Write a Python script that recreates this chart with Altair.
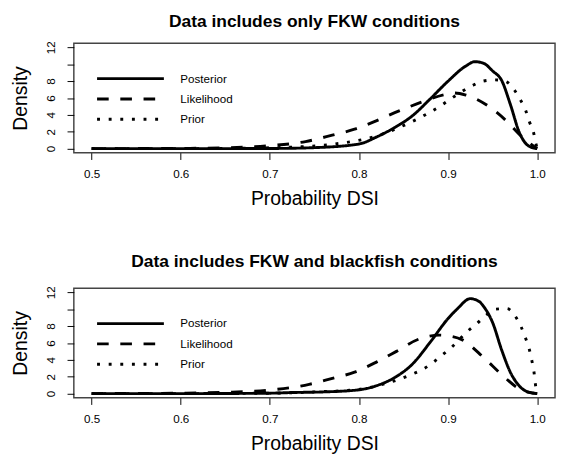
import altair as alt
import pandas as pd

SERIES = ["Posterior", "Likelihood", "Prior"]
X_TICKS = [0.5, 0.6, 0.7, 0.8, 0.9, 1.0]
Y_TICKS = [0, 2, 4, 6, 8, 10, 12]
Y_HIDDEN_LABEL = 10  # R drops this label because it would overlap its neighbours
TITLES = ["Data includes only FKW conditions", "Data includes FKW and blackfish conditions"]

# ---- Panel 1: Data includes only FKW conditions ----
top_post_x = [0.50, 0.60, 0.70, 0.75, 0.80, 0.82, 0.84, 0.86, 0.88, 0.90, 0.92, 0.93, 0.94, 0.95, 0.96, 0.97, 0.98, 0.99, 1.0]
top_post_y = [0.0, 0.0, 0.02, 0.12, 0.55, 1.4, 2.5, 3.9, 5.9, 8.0, 9.8, 10.3, 10.1, 9.2, 8.1, 5.2, 1.9, 0.35, 0.0]
top_lik_x = [0.50, 0.60, 0.65, 0.70, 0.74, 0.77, 0.795, 0.82, 0.845, 0.87, 0.896, 0.907, 0.92, 0.945, 0.965, 0.983, 1.0]
top_lik_y = [0.0, 0.03, 0.1, 0.35, 0.84, 1.6, 2.3, 3.33, 4.47, 5.5, 6.4, 6.6, 6.35, 5.05, 3.33, 1.4, 0.0]
top_pri_x = [0.50, 0.60, 0.70, 0.752, 0.78, 0.81, 0.833, 0.858, 0.869, 0.881, 0.892, 0.903, 0.926, 0.939, 0.952, 0.964, 0.974, 0.981, 0.987, 0.991, 0.996, 0.9986, 1.0]
top_pri_y = [0.0, 0.0, 0.1, 0.34, 0.65, 1.22, 1.99, 3.13, 3.7, 4.4, 5.1, 5.9, 7.4, 8.0, 8.15, 8.0, 7.0, 5.8, 4.55, 3.25, 1.87, 0.57, 0.0]

# ---- Panel 2: Data includes FKW and blackfish conditions ----
bot_post_x = [0.50, 0.60, 0.70, 0.726, 0.76, 0.80, 0.82, 0.84, 0.86, 0.88, 0.90, 0.91, 0.925, 0.935, 0.94, 0.95, 0.96, 0.97, 0.98, 0.99, 1.0]
bot_post_y = [0.0, 0.0, 0.05, 0.13, 0.2, 0.45, 0.95, 1.9, 3.5, 6.1, 8.9, 10.0, 11.25, 10.9, 10.3, 8.4, 5.2, 2.5, 0.9, 0.17, 0.0]
bot_lik_x = [0.50, 0.60, 0.65, 0.70, 0.744, 0.769, 0.795, 0.82, 0.842, 0.867, 0.89, 0.90, 0.916, 0.94, 0.961, 0.979, 1.0]
bot_lik_y = [0.0, 0.05, 0.15, 0.42, 1.09, 1.78, 2.54, 3.76, 5.0, 6.45, 6.93, 6.85, 6.36, 4.26, 2.16, 0.63, 0.0]
bot_pri_x = [0.50, 0.60, 0.70, 0.75, 0.80, 0.83, 0.845, 0.858, 0.871, 0.882, 0.892, 0.903, 0.922, 0.932, 0.942, 0.953, 0.966, 0.975, 0.982, 0.987, 0.991, 0.994, 0.9965, 0.998, 1.0]
bot_pri_y = [0.0, 0.0, 0.05, 0.2, 0.5, 1.2, 1.7, 2.23, 2.84, 3.6, 4.45, 5.4, 7.4, 8.27, 9.23, 10.0, 10.07, 9.23, 7.9, 6.55, 5.3, 3.9, 2.47, 1.09, 0.0]

FONT = "Liberation Sans"
W, H = 497, 113


def frame(parts):
    rows = []
    for name, xs, ys in parts:
        for i, (a, b) in enumerate(zip(xs, ys)):
            rows.append({"series": name, "x": a, "d": b, "order": i})
    return pd.DataFrame(rows)


def panel(df, title, title_dy):
    lines = (
        alt.Chart(df)
        .mark_line(color="black", strokeWidth=3, interpolate="monotone", strokeCap="butt")
        .encode(
            x=alt.X(
                "x:Q",
                scale=alt.Scale(domain=[0.48, 1.02], nice=False, zero=False),
                axis=alt.Axis(values=X_TICKS, format=".1f", title="Probability DSI"),
            ),
            y=alt.Y(
                "d:Q",
                scale=alt.Scale(domain=[-0.48, 12.48], nice=False, zero=False),
                axis=alt.Axis(
                    values=Y_TICKS,
                    title="Density",
                    labelAngle=270,
                    labelExpr=f"datum.value == {Y_HIDDEN_LABEL} ? '' : datum.label",
                ),
            ),
            strokeDash=alt.StrokeDash(
                "series:N",
                scale=alt.Scale(domain=SERIES, range=[[1, 0], [12, 12], [3, 9]]),
                legend=alt.Legend(
                    title=None,
                    orient="none",
                    legendX=52,
                    legendY=30,
                    symbolType="M-6.9,0H6.9",
                    symbolSize=100,
                    symbolStrokeWidth=3,
                    symbolStrokeColor="black",
                    symbolFillColor="transparent",
                    labelFont=FONT,
                    labelFontSize=12,
                    labelColor="black",
                    labelOffset=45,
                    rowPadding=8,
                ),
            ),
            order="order:Q",
        )
    )
    head = (
        alt.Chart(pd.DataFrame({"t": [title]}))
        .mark_text(font=FONT, fontSize=18, fontWeight="bold", color="black", align="center", baseline="alphabetic")
        .encode(text="t:N", x=alt.value(W / 2), y=alt.value(title_dy))
    )
    return alt.layer(lines, head).properties(width=W, height=H)


df_top = frame([("Posterior", top_post_x, top_post_y), ("Likelihood", top_lik_x, top_lik_y), ("Prior", top_pri_x, top_pri_y)])
df_bot = frame([("Posterior", bot_post_x, bot_post_y), ("Likelihood", bot_lik_x, bot_lik_y), ("Prior", bot_pri_x, bot_pri_y)])

chart = (
    alt.vconcat(
        panel(df_top, TITLES[0], -17),
        panel(df_bot, TITLES[1], -22),
        spacing=44,
    )
    .resolve_scale(strokeDash="independent")
    .resolve_legend(strokeDash="independent")
    .properties(padding={"left": 2, "top": -3, "right": 0, "bottom": 0})
    .configure_view(stroke="#444", strokeWidth=1.5)
    .configure_axis(
        grid=False,
        domain=False,
        tickColor="black",
        tickSize=7,
        labelFont=FONT,
        labelFontSize=12,
        labelColor="black",
        titleFont=FONT,
        titleFontSize=20,
        titleFontWeight="normal",
        titleColor="black",
    )
    .configure_axisX(labelPadding=10, titlePadding=10)
    .configure_axisY(labelPadding=10, titlePadding=15)
)

chart.save("out.html", embed_options={"renderer": "svg", "actions": False})
